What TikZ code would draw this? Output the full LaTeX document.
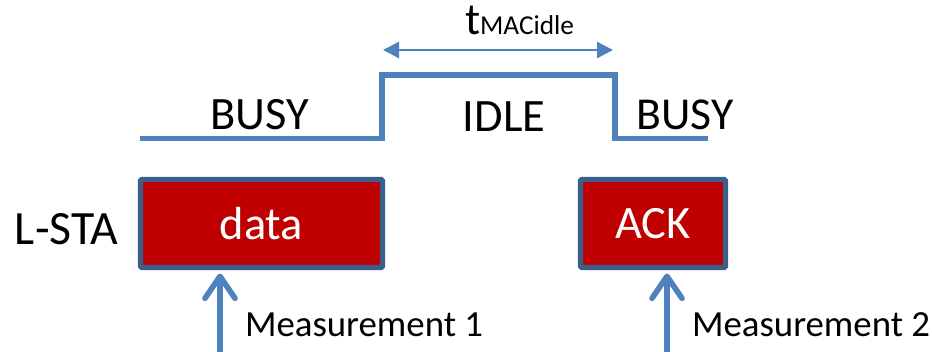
\documentclass[tikz,border=0pt]{standalone}
\usepackage{fontspec}
\setmainfont{Carlito}
\usetikzlibrary{arrows.meta, positioning}

\definecolor{framered}{HTML}{C00000}
\definecolor{frameblue}{HTML}{3A5F8B}
\definecolor{wireblue}{HTML}{4F81BD}

\begin{document}
\begin{tikzpicture}[
    x=0.025cm, y=-0.025cm,
    every node/.style={inner sep=0pt, outer sep=0pt},
    frame/.style={rectangle, draw=frameblue, fill=framered, line width=3.8pt, rounded corners=1pt,
        minimum height=2.2cm, text=white, font=\fontsize{33}{36}\selectfont},
    statelabel/.style={anchor=base, font=\fontsize{33}{36}\selectfont},
    measlabel/.style={anchor=base west, font=\fontsize{26.2}{30}\selectfont},
    signal/.style={wireblue, line width=4pt},
    measarrow/.style={wireblue, line width=4pt, -{Straight Barb[length=0.55cm, width=0.75cm, line cap=round, line join=round]}},
    spanarrow/.style={wireblue, line width=1.8pt, {Triangle[length=0.4cm, width=0.4cm]}-{Triangle[length=0.4cm, width=0.4cm]}}
]
\useasboundingbox (0,0) rectangle (932,352);

% ============ MEDIUM STATE ============
\coordinate (lowstart) at (140,138.5);
\coordinate (rise) at (382,75);
\coordinate (fall) at (615,75);
\coordinate (lowend) at (708,138.5);
\draw[signal] (lowstart) -| (rise) -- (fall) |- (lowend);

\node[statelabel] (busyleft) at (260,130) {BUSY};
\node[statelabel] (idle) at (504,132) {IDLE};
\node[statelabel, font=\fontsize{32.5}{36}\selectfont] (busyright) at (685,130) {BUSY};

% Idle time span
\coordinate (spanstart) at (383,50);
\coordinate (spanend) at (613,50);
\draw[spanarrow] (spanstart) -- (spanend);
\node[anchor=base west] (tidle) at (465,35)
    {\fontsize{32}{34}\selectfont t\fontsize{19.4}{22}\selectfont MACidle};

% ============ FRAMES ============
\node[frame, minimum width=6.05cm] (data) at (261.5,223.5) {data};
\node[frame, minimum width=3.625cm] (ack) at (653,223.5) {ACK};
\node[anchor=base west, font=\fontsize{34}{38}\selectfont] (sta) at (15,245) {L-STA};

% ============ MEASUREMENT POINTS ============
\coordinate (meas1) at (220,352);
\coordinate (meas2) at (667,352);
\draw[measarrow, shorten >=0.15cm] (meas1) -- (meas1 |- data.south);
\draw[measarrow, shorten >=0.15cm] (meas2) -- (meas2 |- ack.south);

\node[measlabel] (m1label) at (245,337) {Measurement 1};
\node[measlabel] (m2label) at (692,337) {Measurement 2};

\end{tikzpicture}
\end{document}
